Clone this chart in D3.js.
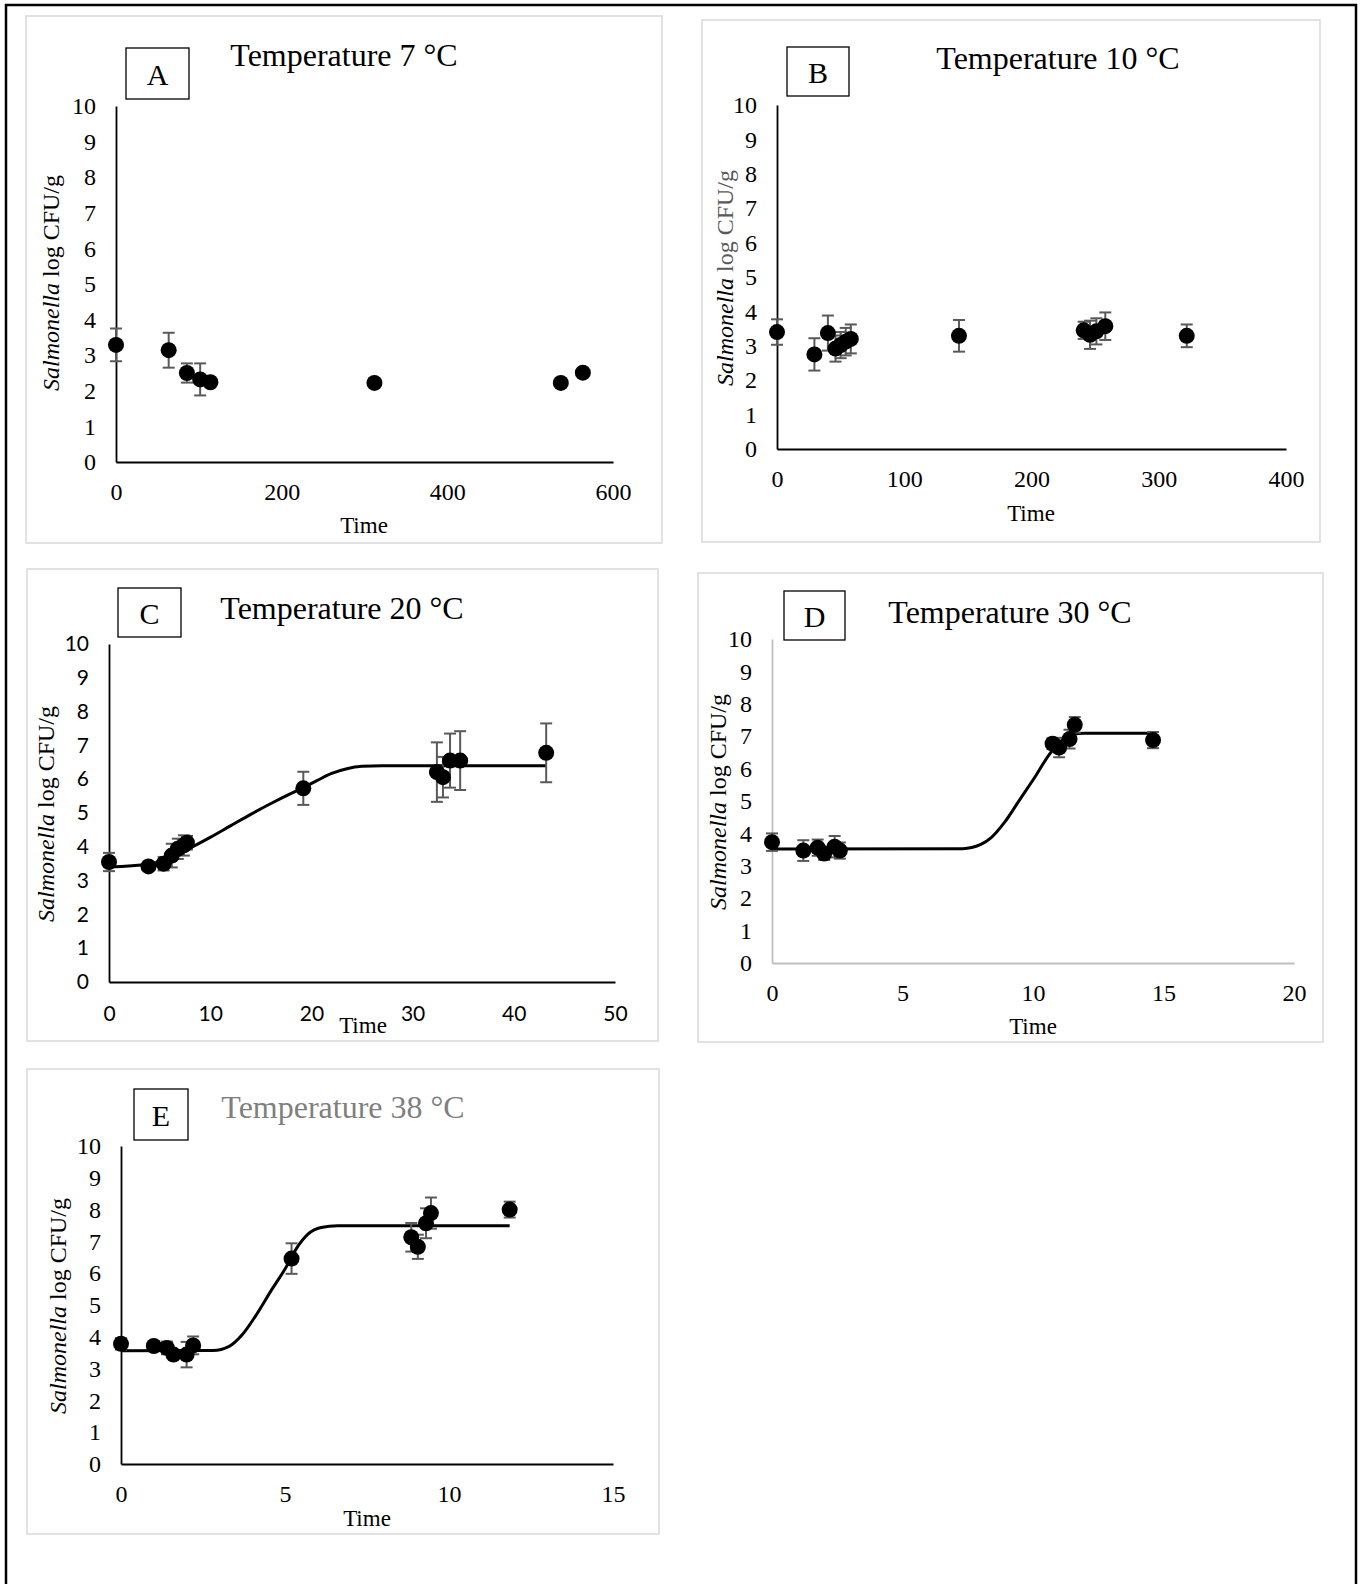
<!DOCTYPE html>
<html>
<head>
<meta charset="utf-8">
<script src="https://cdn.jsdelivr.net/npm/d3@7"></script>
<style>
  body { margin: 0; background: #fff; }
  svg { display: block; }
</style>
</head>
<body>
<div id="fig"></div>
<script>
// ---- data ----
// A: 7 °C
var timeA  = [0, 63.6, 85.6, 101.6, 114, 312, 537, 563.6];
var countA = [3.29, 3.14, 2.50, 2.32, 2.24, 2.22, 2.22, 2.51];
var errA   = [0.46, 0.49, 0.27, 0.45, 0, 0, 0, 0];

// B: 10 °C
var timeB  = [0, 29.4, 40, 46, 50, 54, 58, 143, 241, 246, 251, 258, 322];
var countB = [3.40, 2.75, 3.37, 2.92, 3.02, 3.12, 3.20, 3.29, 3.45, 3.32, 3.42, 3.57, 3.29];
var errB   = [0.37, 0.47, 0.51, 0.38, 0.38, 0.40, 0.42, 0.46, 0.25, 0.41, 0.38, 0.40, 0.33];

// C: 20 °C
var timeC  = [0, 3.9, 5.4, 6.2, 6.8, 7.4, 7.7, 19.2, 32.4, 33.0, 33.7, 34.7, 43.2];
var countC = [3.55, 3.42, 3.50, 3.74, 3.94, 4.04, 4.12, 5.73, 6.21, 6.06, 6.55, 6.55, 6.78];
var errC   = [0.27, 0, 0.2, 0.35, 0.3, 0.3, 0.2, 0.49, 0.88, 0.6, 0.8, 0.87, 0.87];
var fitTimeC = [0, 3.9, 5.4, 7.6, 10, 12, 14, 16, 18, 19.2, 20.5, 22, 23.5, 25, 27, 43.2];
var fitC     = [3.40, 3.49, 3.58, 3.90, 4.28, 4.62, 4.96, 5.28, 5.58, 5.75, 5.95, 6.17, 6.31, 6.38, 6.40, 6.40];

// D: 30 °C
var timeD  = [0, 1.2, 1.75, 2.0, 2.4, 2.6, 10.75, 11.0, 11.4, 11.6, 14.6];
var countD = [3.73, 3.47, 3.56, 3.38, 3.59, 3.47, 6.77, 6.65, 6.91, 7.35, 6.88];
var errD   = [0.27, 0.32, 0.25, 0.2, 0.33, 0.25, 0.17, 0.3, 0.29, 0.24, 0.25];
var fitTimeD = [0, 7.3, 8.0, 8.4, 8.9, 9.5, 10.1, 10.6, 11.1, 11.5, 12, 14.6];
var fitD     = [3.52, 3.53, 3.66, 3.87, 4.33, 5.05, 5.77, 6.41, 6.86, 7.06, 7.09, 7.09];

// E: 38 °C
var timeE  = [0, 1.0, 1.4, 1.6, 2.0, 2.2, 5.2, 8.85, 9.05, 9.3, 9.45, 11.85];
var countE = [3.78, 3.71, 3.65, 3.44, 3.44, 3.73, 6.46, 7.13, 6.83, 7.57, 7.89, 8.0];
var errE   = [0.18, 0.1, 0.2, 0.1, 0.4, 0.28, 0.48, 0.45, 0.38, 0.47, 0.49, 0.25];
var fitTimeE = [0, 2.8, 3.3, 3.7, 4.1, 4.6, 5.0, 5.4, 5.7, 6.1, 6.6, 11.85];
var fitE     = [3.56, 3.57, 3.70, 4.07, 4.65, 5.49, 6.13, 6.86, 7.23, 7.44, 7.49, 7.49];

var yTicks = [0, 1, 2, 3, 4, 5, 6, 7, 8, 9, 10];
var xTicksA = [0, 200, 400, 600];
var xTicksB = [0, 100, 200, 300, 400];
var xTicksC = [0, 10, 20, 30, 40, 50];
var xTicksD = [0, 5, 10, 15, 20];
var xTicksE = [0, 5, 10, 15];

var serif = "'Liberation Serif', 'Times New Roman', serif";
var sans = "Lato, 'Liberation Sans', sans-serif";

var svg = d3.select("#fig").append("svg")
    .attr("width", 1362)
    .attr("height", 1584);

svg.append("rect").attr("width", 1362).attr("height", 1584).attr("fill", "#fff");

// outer border of the figure
svg.append("rect")
    .attr("x", 6).attr("y", 5).attr("width", 1350).attr("height", 1620)
    .attr("fill", "none").attr("stroke", "#000").attr("stroke-width", 2.5);

var panels = [
  { letter: "A", title: "Temperature 7 \u00B0C", time: timeA, count: countA, err: errA,
    xmax: 600, xticks: xTicksA,
    frame: [26, 16, 662, 543], box: [126, 48, 63, 51], titlePos: [344, 66],
    x0: 116, x1: 613, y0: 462, y1: 106, xlab: [364, 533], ylab: [51, 283] },
  { letter: "B", title: "Temperature 10 \u00B0C", time: timeB, count: countB, err: errB,
    xmax: 400, xticks: xTicksB,
    frame: [702, 20, 1320, 542], box: [787, 47, 62, 49], titlePos: [1058, 69],
    x0: 777, x1: 1286, y0: 449, y1: 105, xlab: [1031, 521], ylab: [725, 278], greyUnit: true },
  { letter: "C", title: "Temperature 20 \u00B0C", time: timeC, count: countC, err: errC,
    fitTime: fitTimeC, fit: fitC, xmax: 50, xticks: xTicksC, sansTicks: true,
    frame: [27, 569, 658, 1041], box: [118, 588, 63, 49], titlePos: [342, 619],
    x0: 109, x1: 615, y0: 982, y1: 644, xlab: [363, 1033], ylab: [46, 814] },
  { letter: "D", title: "Temperature 30 \u00B0C", time: timeD, count: countD, err: errD,
    fitTime: fitTimeD, fit: fitD, xmax: 20, xticks: xTicksD, axisColor: "#bfbfbf",
    frame: [698, 573, 1323, 1042], box: [784, 591, 61, 49], titlePos: [1010, 623],
    x0: 772, x1: 1294, y0: 963, y1: 639, xlab: [1033, 1034], ylab: [718, 802] },
  { letter: "E", title: "Temperature 38 \u00B0C", time: timeE, count: countE, err: errE,
    fitTime: fitTimeE, fit: fitE, xmax: 15, xticks: xTicksE, titleColor: "#7f7f7f",
    frame: [27, 1069, 659, 1534], box: [134, 1089, 54, 51], titlePos: [343, 1118],
    x0: 121, x1: 613, y0: 1464, y1: 1146, xlab: [367, 1526], ylab: [58, 1306] }
];

panels.forEach(function (p) {
  var g = svg.append("g");

  // light grey chart frame
  g.append("rect")
      .attr("x", p.frame[0]).attr("y", p.frame[1])
      .attr("width", p.frame[2] - p.frame[0]).attr("height", p.frame[3] - p.frame[1])
      .attr("fill", "#fff").attr("stroke", "#d9d9d9").attr("stroke-width", 1.5);

  // letter box
  g.append("rect")
      .attr("x", p.box[0]).attr("y", p.box[1]).attr("width", p.box[2]).attr("height", p.box[3])
      .attr("fill", "#fff").attr("stroke", "#000").attr("stroke-width", 1.3);
  g.append("text")
      .attr("x", p.box[0] + p.box[2] / 2).attr("y", p.box[1] + p.box[3] / 2 + 11)
      .attr("text-anchor", "middle")
      .style("font-family", serif).style("font-size", "30px")
      .text(p.letter);

  g.append("text")
      .attr("x", p.titlePos[0]).attr("y", p.titlePos[1])
      .attr("text-anchor", "middle")
      .attr("fill", p.titleColor || "#000")
      .style("font-family", serif).style("font-size", "32px")
      .text(p.title);

  var x = d3.scaleLinear().domain([0, p.xmax]).range([p.x0, p.x1]);
  var y = d3.scaleLinear().domain([0, 10]).range([p.y0, p.y1]);
  var axisColor = p.axisColor || "#000";
  var tickFont = p.sansTicks ? sans : serif;
  var tickSize = p.sansTicks ? "21px" : "24px";

  var ax = g.append("g")
      .attr("transform", "translate(0," + p.y0 + ")")
      .call(d3.axisBottom(x).tickValues(p.xticks).tickSize(0).tickPadding(p.sansTicks ? 24 : 21));
  var ay = g.append("g")
      .attr("transform", "translate(" + p.x0 + ",0)")
      .call(d3.axisLeft(y).tickValues(yTicks).tickSize(0).tickPadding(20));

  [ax, ay].forEach(function (a) {
    a.select(".domain").attr("stroke", axisColor).attr("stroke-width", 1.8);
    a.selectAll("text")
        .attr("fill", "#000")
        .style("font-family", tickFont)
        .style("font-size", tickSize);
  });

  // axis titles
  g.append("text")
      .attr("x", p.xlab[0]).attr("y", p.xlab[1])
      .attr("text-anchor", "middle")
      .style("font-family", serif).style("font-size", "23px")
      .text("Time");

  var yt = g.append("text")
      .attr("transform", "translate(" + (p.ylab[0] + 8) + "," + p.ylab[1] + ") rotate(-90)")
      .attr("text-anchor", "middle")
      .style("font-family", serif).style("font-size", "24px");
  yt.append("tspan").style("font-style", "italic").text("Salmonella");
  yt.append("tspan").attr("fill", p.greyUnit ? "#595959" : "#000").text(" log CFU/g");

  // fitted growth curve
  if (p.fit) {
    var line = d3.line()
        .x(function (d, i) { return x(p.fitTime[i]); })
        .y(function (d) { return y(d); })
        .curve(d3.curveMonotoneX);
    g.append("path")
        .datum(p.fit)
        .attr("fill", "none")
        .attr("stroke", "#000")
        .attr("stroke-width", 3)
        .attr("d", line);
  }

  // error bars
  var pts = p.time.map(function (t, i) { return { t: t, v: p.count[i], e: p.err[i] }; })
      .filter(function (d) { return d.e > 0; });
  var eb = g.append("g").attr("stroke", "#595959").attr("stroke-width", 2);
  eb.selectAll("line.v").data(pts).enter().append("line")
      .attr("x1", function (d) { return x(d.t); }).attr("x2", function (d) { return x(d.t); })
      .attr("y1", function (d) { return y(d.v - d.e); }).attr("y2", function (d) { return y(d.v + d.e); });
  eb.selectAll("line.top").data(pts).enter().append("line")
      .attr("x1", function (d) { return x(d.t) - 6; }).attr("x2", function (d) { return x(d.t) + 6; })
      .attr("y1", function (d) { return y(d.v + d.e); }).attr("y2", function (d) { return y(d.v + d.e); });
  eb.selectAll("line.bot").data(pts).enter().append("line")
      .attr("x1", function (d) { return x(d.t) - 6; }).attr("x2", function (d) { return x(d.t) + 6; })
      .attr("y1", function (d) { return y(d.v - d.e); }).attr("y2", function (d) { return y(d.v - d.e); });

  // observed points
  g.selectAll("circle").data(p.time).enter().append("circle")
      .attr("cx", function (d) { return x(d); })
      .attr("cy", function (d, i) { return y(p.count[i]); })
      .attr("r", 8)
      .attr("fill", "#000");
});
</script>
</body>
</html>
